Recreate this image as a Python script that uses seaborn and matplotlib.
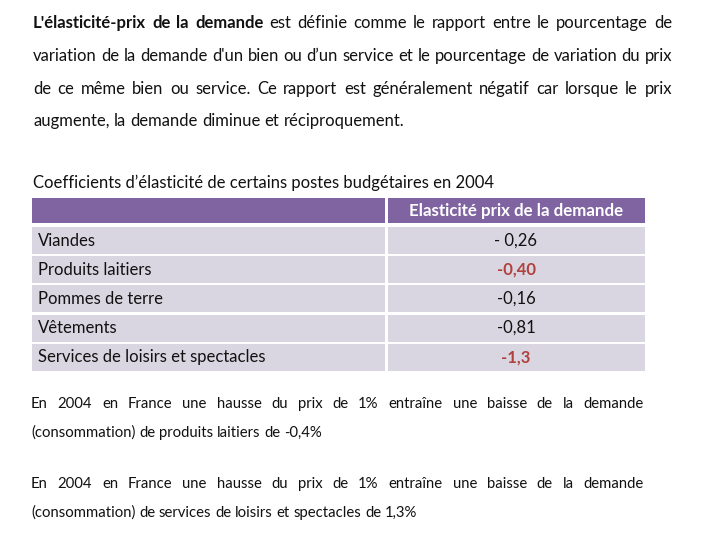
import matplotlib
matplotlib.use("Agg")
import matplotlib.pyplot as plt
from matplotlib.patches import Rectangle
import seaborn as sns

# ---- data ----
intro_lines = [
    "L'élasticité-prix de la demande est définie comme le rapport entre le pourcentage de",
    "variation de la demande d'un bien ou d’un service et le pourcentage de variation du prix",
    "de ce même bien ou service. Ce rapport est généralement négatif car lorsque le prix",
    "augmente, la demande diminue et réciproquement.",
]
bold_words = 4  # "L'élasticité-prix de la demande"
table_title = "Coefficients d’élasticité de certains postes budgétaires en 2004"
column_header = "Elasticité prix de la demande"
categories = ["Viandes", "Produits laitiers", "Pommes de terre", "Vêtements",
              "Services de loisirs et spectacles"]
values = ["- 0,26", "-0,40", "-0,16", "-0,81", "-1,3"]
highlight = [False, True, False, False, True]
notes = [
    ["En 2004 en France une hausse du prix de 1% entraîne une baisse de la demande",
     "(consommation) de produits laitiers de -0,4%"],
    ["En 2004 en France une hausse du prix de 1% entraîne une baisse de la demande",
     "(consommation) de services de loisirs et spectacles de 1,3%"],
]

sns.set_theme(style="white")
plt.rcParams['font.family'] = ['Lato', 'DejaVu Sans']

fig = plt.figure(figsize=(7.2, 5.4), dpi=100)
ax = fig.add_axes([0, 0, 1, 1])
ax.set_xlim(0, 720)
ax.set_ylim(540, 0)
ax.axis("off")
renderer = fig.canvas.get_renderer()

TXT = "#111111"
FS = 12


def word_width(w, weight="normal", size=FS):
    t = ax.text(0, 0, w, fontsize=size, fontweight=weight)
    bb = t.get_window_extent(renderer)
    t.remove()
    return bb.width


def draw_line(text, x0, x1, y, justify=True, nbold=0, size=FS):
    words = text.split(" ")
    weights = ["bold" if i < nbold else "normal" for i in range(len(words))]
    widths = [word_width(w, wt, size) for w, wt in zip(words, weights)]
    space = word_width("a a", size=size) - 2 * word_width("a", size=size)
    if justify and len(words) > 1:
        gap = (x1 - x0 - sum(widths)) / (len(words) - 1)
    else:
        gap = space
    x = x0
    for w, wt, wd in zip(words, weights, widths):
        ax.text(x, y, w, fontsize=size, fontweight=wt, color=TXT,
                va="center", ha="left")
        x += wd + gap


intro_y = [23, 56, 89, 121]
for i, (line, y) in enumerate(zip(intro_lines, intro_y)):
    draw_line(line, 33, 672, y, justify=(i < len(intro_lines) - 1),
              nbold=bold_words if i == 0 else 0)

ax.text(33, 183, table_title, fontsize=FS, color=TXT, va="center", ha="left")

# table
HEAD = "#8064a2"
ROW = "#dad6e1"
xl0, xl1, xr0, xr1 = 32, 385, 388, 645
ax.add_patch(Rectangle((xl0, 198), xl1 - xl0, 25, color=HEAD, lw=0))
ax.add_patch(Rectangle((xr0, 198), xr1 - xr0, 25, color=HEAD, lw=0))
ax.text((xr0 + xr1) / 2, 211, column_header, fontsize=12.2, fontweight="bold",
        color="white", va="center", ha="center")

row_h = 27
for i, (cat, val, hl) in enumerate(zip(categories, values, highlight)):
    top = 227 + i * 29.2
    ax.add_patch(Rectangle((xl0, top), xl1 - xl0, row_h, color=ROW, lw=0))
    ax.add_patch(Rectangle((xr0, top), xr1 - xr0, row_h, color=ROW, lw=0))
    cy = top + row_h / 2
    ax.text(38, cy, cat, fontsize=FS, color=TXT, va="center", ha="left")
    ax.text(516, cy, val, fontsize=FS, color="#b0413e" if hl else TXT,
            fontweight="bold" if hl else "normal", va="center", ha="center")

note_y = [[404, 433], [484, 513]]
for para, ys in zip(notes, note_y):
    draw_line(para[0], 31, 644, ys[0], justify=True, size=10.7)
    draw_line(para[1], 31, 644, ys[1], justify=False, size=10.7)

fig.savefig("out.png", dpi=100)
